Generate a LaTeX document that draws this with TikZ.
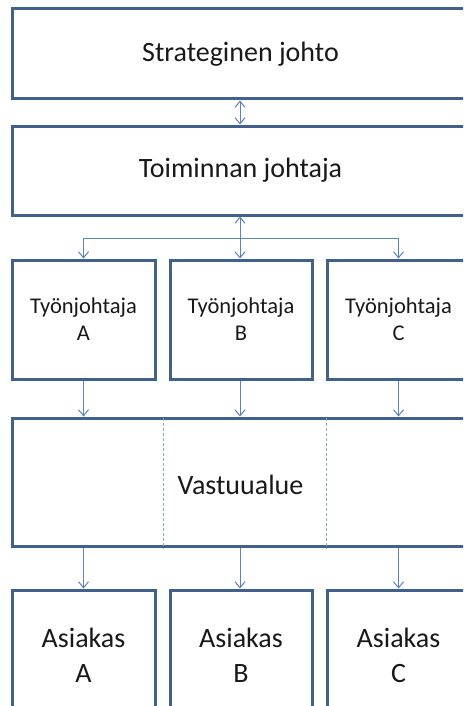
\documentclass[tikz,border=0pt]{standalone}
\usepackage{fontspec}
\setmainfont{Carlito}
\usetikzlibrary{arrows.meta}
\definecolor{boxline}{RGB}{66,96,140}
\definecolor{arrline}{RGB}{90,130,190}
\definecolor{txt}{RGB}{25,25,25}
\tikzset{
  box/.style={draw=boxline, line width=3pt, fill=white, inner sep=0pt, align=center, text=txt},
  big/.style={font=\fontsize{28}{35}\selectfont},
  small/.style={font=\fontsize{22.5}{27}\selectfont},
  conn/.style={draw=arrline, line width=1pt, -{Straight Barb[length=6pt,width=10pt]}},
  dconn/.style={draw=arrline, line width=1pt, {Straight Barb[length=6pt,width=10pt]}-{Straight Barb[length=6pt,width=10pt]}},
  sep/.style={draw=arrline!70, line width=0.8pt, dash pattern=on 3pt off 2pt}
}
\begin{document}
\begin{tikzpicture}[x=1pt,y=-1pt]
\useasboundingbox (0,0) rectangle (463,706);
\clip (0,0) rectangle (463,706);
\node[box,big,minimum width=457pt,minimum height=90pt] (sj) at (240.5,54) {Strateginen johto};
\node[box,big,minimum width=457pt,minimum height=89pt] (tj) at (240.5,170.5) {Toiminnan johtaja};
\node[box,small,minimum width=143pt,minimum height=119pt] (ta) at (83.5,319.5) {Työnjohtaja\\A};
\node[box,small,minimum width=142pt,minimum height=119pt] (tb) at (241,319.5) {Työnjohtaja\\B};
\node[box,small,minimum width=143pt,minimum height=119pt] (tc) at (398.5,319.5) {Työnjohtaja\\C};
\node[box,big,minimum width=457pt,minimum height=128pt] (va) at (240.5,482) {};
\node[big,text=txt] (valabel) at (240.5,485) {Vastuualue};
\node[box,big,minimum width=143pt,minimum height=130pt] (aa) at (83.5,655) {Asiakas\\A};
\node[box,big,minimum width=142pt,minimum height=130pt] (ab) at (241,655) {Asiakas\\B};
\node[box,big,minimum width=143pt,minimum height=130pt] (ac) at (398.5,655) {Asiakas\\C};
% separators
\coordinate (s1) at (163.5,0);
\coordinate (s2) at (326.5,0);
\draw[sep] (s1 |- va.north) ++(0,1.5) -- ([yshift=-1.5pt]s1 |- va.south);
\draw[sep] (s2 |- va.north) ++(0,1.5) -- ([yshift=-1.5pt]s2 |- va.south);
% connectors
\coordinate (c) at (240,0);
\draw[dconn] (c |- sj.south) -- (c |- tj.north);
\draw[dconn] (c |- tj.south) -- (c |- tb.north);
\coordinate (hl) at (83.5,238);
\coordinate (hr) at (398.5,238);
\draw[arrline, line width=1pt] (hl) -- (hr);
\draw[conn] (hl) -- (ta.north);
\draw[conn] (hr) -- (tc.north);
\draw[conn] (ta.south) -- (ta.south |- va.north);
\draw[conn] (tb.south -| c) -- (c |- va.north);
\draw[conn] (tc.south) -- (tc.south |- va.north);
\draw[conn] (aa.north |- va.south) -- (aa.north);
\draw[conn] (c |- va.south) -- (c |- ab.north);
\draw[conn] (ac.north |- va.south) -- (ac.north);
\end{tikzpicture}
\end{document}
